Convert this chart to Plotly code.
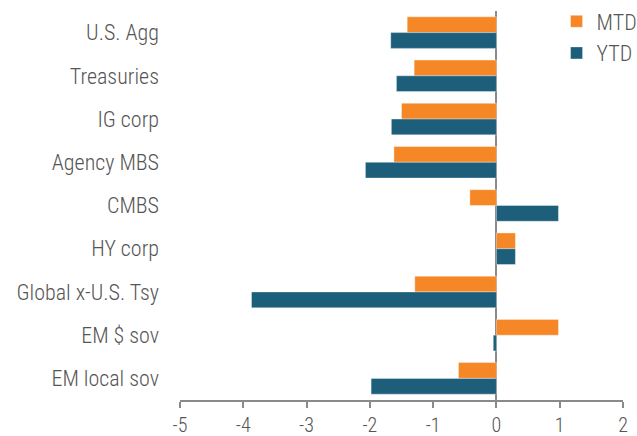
import plotly.graph_objects as go

categories = ["U.S. Agg", "Treasuries", "IG corp", "Agency MBS", "CMBS",
              "HY corp", "Global x-U.S. Tsy", "EM $ sov", "EM local sov"]
mtd = [-1.41, -1.30, -1.50, -1.62, -0.42, 0.30, -1.29, 0.98, -0.60]
ytd = [-1.67, -1.58, -1.66, -2.07, 0.98, 0.30, -3.87, -0.05, -1.98]
x_ticks = [-5, -4, -3, -2, -1, 0, 1, 2]

FONT = "Roboto Condensed, Liberation Sans Narrow, sans-serif"
ORANGE = "#F58726"
BLUE = "#1D5E7A"
TEXT = "#555555"

fig = go.Figure()
fig.add_trace(go.Bar(y=categories, x=mtd, name="MTD", orientation="h",
                     marker=dict(color=ORANGE, line=dict(color="rgba(255,255,255,0.6)", width=0.6))))
fig.add_trace(go.Bar(y=categories, x=ytd, name="YTD", orientation="h",
                     marker=dict(color=BLUE, line=dict(color="rgba(255,255,255,0.6)", width=0.6))))

fig.update_layout(
    width=637, height=436,
    margin=dict(l=180, r=14, t=11, b=36, autoexpand=False),
    paper_bgcolor="white", plot_bgcolor="white",
    barmode="group", bargap=0.27, bargroupgap=0,
    font=dict(family=FONT, size=22, color=TEXT, weight=300),
    showlegend=True,
    legend=dict(x=0.85, y=1.027, xanchor="left", yanchor="top",
                bgcolor="rgba(0,0,0,0)", font=dict(size=22, color=TEXT, weight=300),
                traceorder="normal", itemwidth=30, tracegroupgap=0),
    xaxis=dict(range=[-5, 2], tickvals=x_ticks, ticktext=[str(v) for v in x_ticks],
               showgrid=False, zeroline=True, zerolinecolor="#8a8a8a", zerolinewidth=2,
               showline=True, linecolor="#8a8a8a", linewidth=1.5,
               ticks="outside", ticklen=6, tickwidth=1.5, tickcolor="#8a8a8a",
               ticklabelstandoff=0,
               tickfont=dict(size=20, color=TEXT, weight=300)),
    yaxis=dict(autorange="reversed", showgrid=False, showline=False, zeroline=False,
               ticks="", ticklabelstandoff=20, tickfont=dict(size=22, color=TEXT, weight=300)),
)

fig.write_html("out.html", config={"displayModeBar": False},
               post_script="document.body.style.margin='0';document.body.style.overflow='hidden';")
